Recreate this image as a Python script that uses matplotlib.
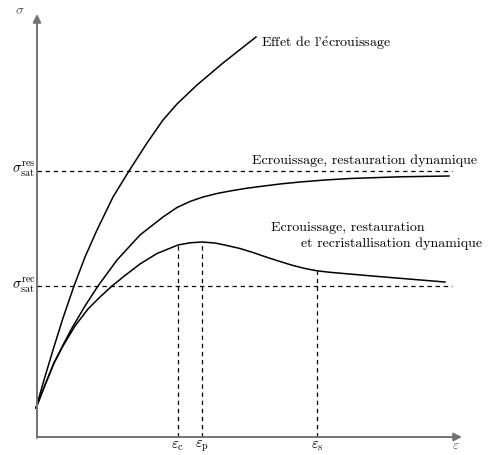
import numpy as np
import matplotlib
matplotlib.use("Agg")
import matplotlib.pyplot as plt

plt.rcParams['mathtext.fontset'] = 'cm'
plt.rcParams['font.family'] = ['cmr10', 'DejaVu Serif']
plt.rcParams['axes.unicode_minus'] = False

# points, in pixel-like units (origin at the axes corner)
ORIGIN_X, ORIGIN_Y = 37, 437

# Effet de l'écrouissage
top_px = [36, 44, 53, 63, 74, 85, 97, 113, 129, 147, 163, 177, 197, 223, 256]
top_py = [408, 380, 350, 318, 286, 257, 230, 197, 171, 143, 120, 104, 85, 63, 37]

# Ecrouissage, restauration dynamique
mid_px = [36, 45, 54, 63, 72, 85, 98, 117, 140, 163, 177, 190, 203, 217, 230, 245,
          260, 280, 300, 325, 350, 400, 449]
mid_py = [408, 385, 363, 345, 328, 306, 286, 260, 235, 217, 207.5, 201.5, 197, 193.5,
          191, 188.5, 186.5, 184, 182, 180, 178.5, 176.8, 176]

# Ecrouissage, restauration et recristallisation dynamique
low_px = [36, 45, 54, 63, 75, 88, 100, 112, 125, 140, 157, 178, 190, 202, 215, 227,
          240, 253, 266, 280, 293, 305, 317, 330, 345, 370, 400, 445]
low_py = [408, 385, 363, 346, 326, 309, 297, 286, 275.5, 264, 253.5, 245, 242.8, 242,
          243, 245.5, 248.5, 252.5, 257, 261.5, 265.5, 268.5, 270.8, 272.3, 273.6,
          275.8, 278.3, 282]

sig_res_py = 171
sig_rec_py = 286
eps_c_px, eps_p_px, eps_s_px = 178, 202, 317
eps_c_top, eps_p_top, eps_s_top = 245, 242, 271
dash_end_px = 452


def X(v):
    return np.asarray(v, dtype=float) - ORIGIN_X


def Y(v):
    return ORIGIN_Y - np.asarray(v, dtype=float)


fig = plt.figure(figsize=(4.88, 4.55), dpi=100)
ax = fig.add_axes([0, 0, 1, 1])
ax.set_xlim(-ORIGIN_X, 488 - ORIGIN_X)
ax.set_ylim(ORIGIN_Y - 455, ORIGIN_Y)
ax.axis('off')

# axes with arrows
ax.annotate('', xy=(X(462), 0), xytext=(X(37), 0),
            arrowprops=dict(arrowstyle='-|>', color='0.45', lw=1.4,
                            mutation_scale=12, shrinkA=0, shrinkB=0))
ax.annotate('', xy=(0, Y(14)), xytext=(0, Y(438)),
            arrowprops=dict(arrowstyle='-|>', color='0.45', lw=1.4,
                            mutation_scale=12, shrinkA=0, shrinkB=0))

# curves
for px, py in [(top_px, top_py), (mid_px, mid_py), (low_px, low_py)]:
    ax.plot(X(px), Y(py), color='black', lw=1.1, solid_joinstyle='round')

# dashed guides
dash = dict(color='black', lw=0.9, ls=(0, (3.5, 3)))
ax.plot([0, X(dash_end_px)], [Y(sig_res_py)] * 2, **dash)
ax.plot([0, X(dash_end_px)], [Y(sig_rec_py)] * 2, **dash)
for ex, ey in [(eps_c_px, eps_c_top), (eps_p_px, eps_p_top), (eps_s_px, eps_s_top)]:
    ax.plot([X(ex)] * 2, [0, Y(ey)], **dash)

fs = 10.1
ax.text(X(261), Y(43), r"Effet de l'$\mathrm{\acute{e}}$crouissage", fontsize=fs, va='center', ha='left')
ax.text(X(252), Y(161), "Ecrouissage, restauration dynamique", fontsize=fs, va='center', ha='left')
ax.text(X(271), Y(228), "Ecrouissage, restauration", fontsize=fs, va='center', ha='left')
ax.text(X(301), Y(244), "et recristallisation dynamique", fontsize=fs, va='center', ha='left')

# axis labels
ax.text(X(20), Y(11), r'$\sigma$', fontsize=9.5, ha='center', va='center', color='0.3')
ax.text(X(36), Y(170), r'$\sigma_{\rm sat}^{\rm res}$', fontsize=10.5, ha='right', va='center')
ax.text(X(36), Y(286), r'$\sigma_{\rm sat}^{\rm rec}$', fontsize=10.5, ha='right', va='center')
ax.text(X(eps_c_px), Y(446), r'$\varepsilon_{\rm c}$', fontsize=10.5, ha='center', va='center')
ax.text(X(eps_p_px), Y(446), r'$\varepsilon_{\rm p}$', fontsize=10.5, ha='center', va='center')
ax.text(X(eps_s_px), Y(446), r'$\varepsilon_{\rm s}$', fontsize=10.5, ha='center', va='center')
ax.text(X(456), Y(446), r'$\varepsilon$', fontsize=9.5, ha='center', va='center', color='0.3')

fig.savefig('out.png', dpi=100)
